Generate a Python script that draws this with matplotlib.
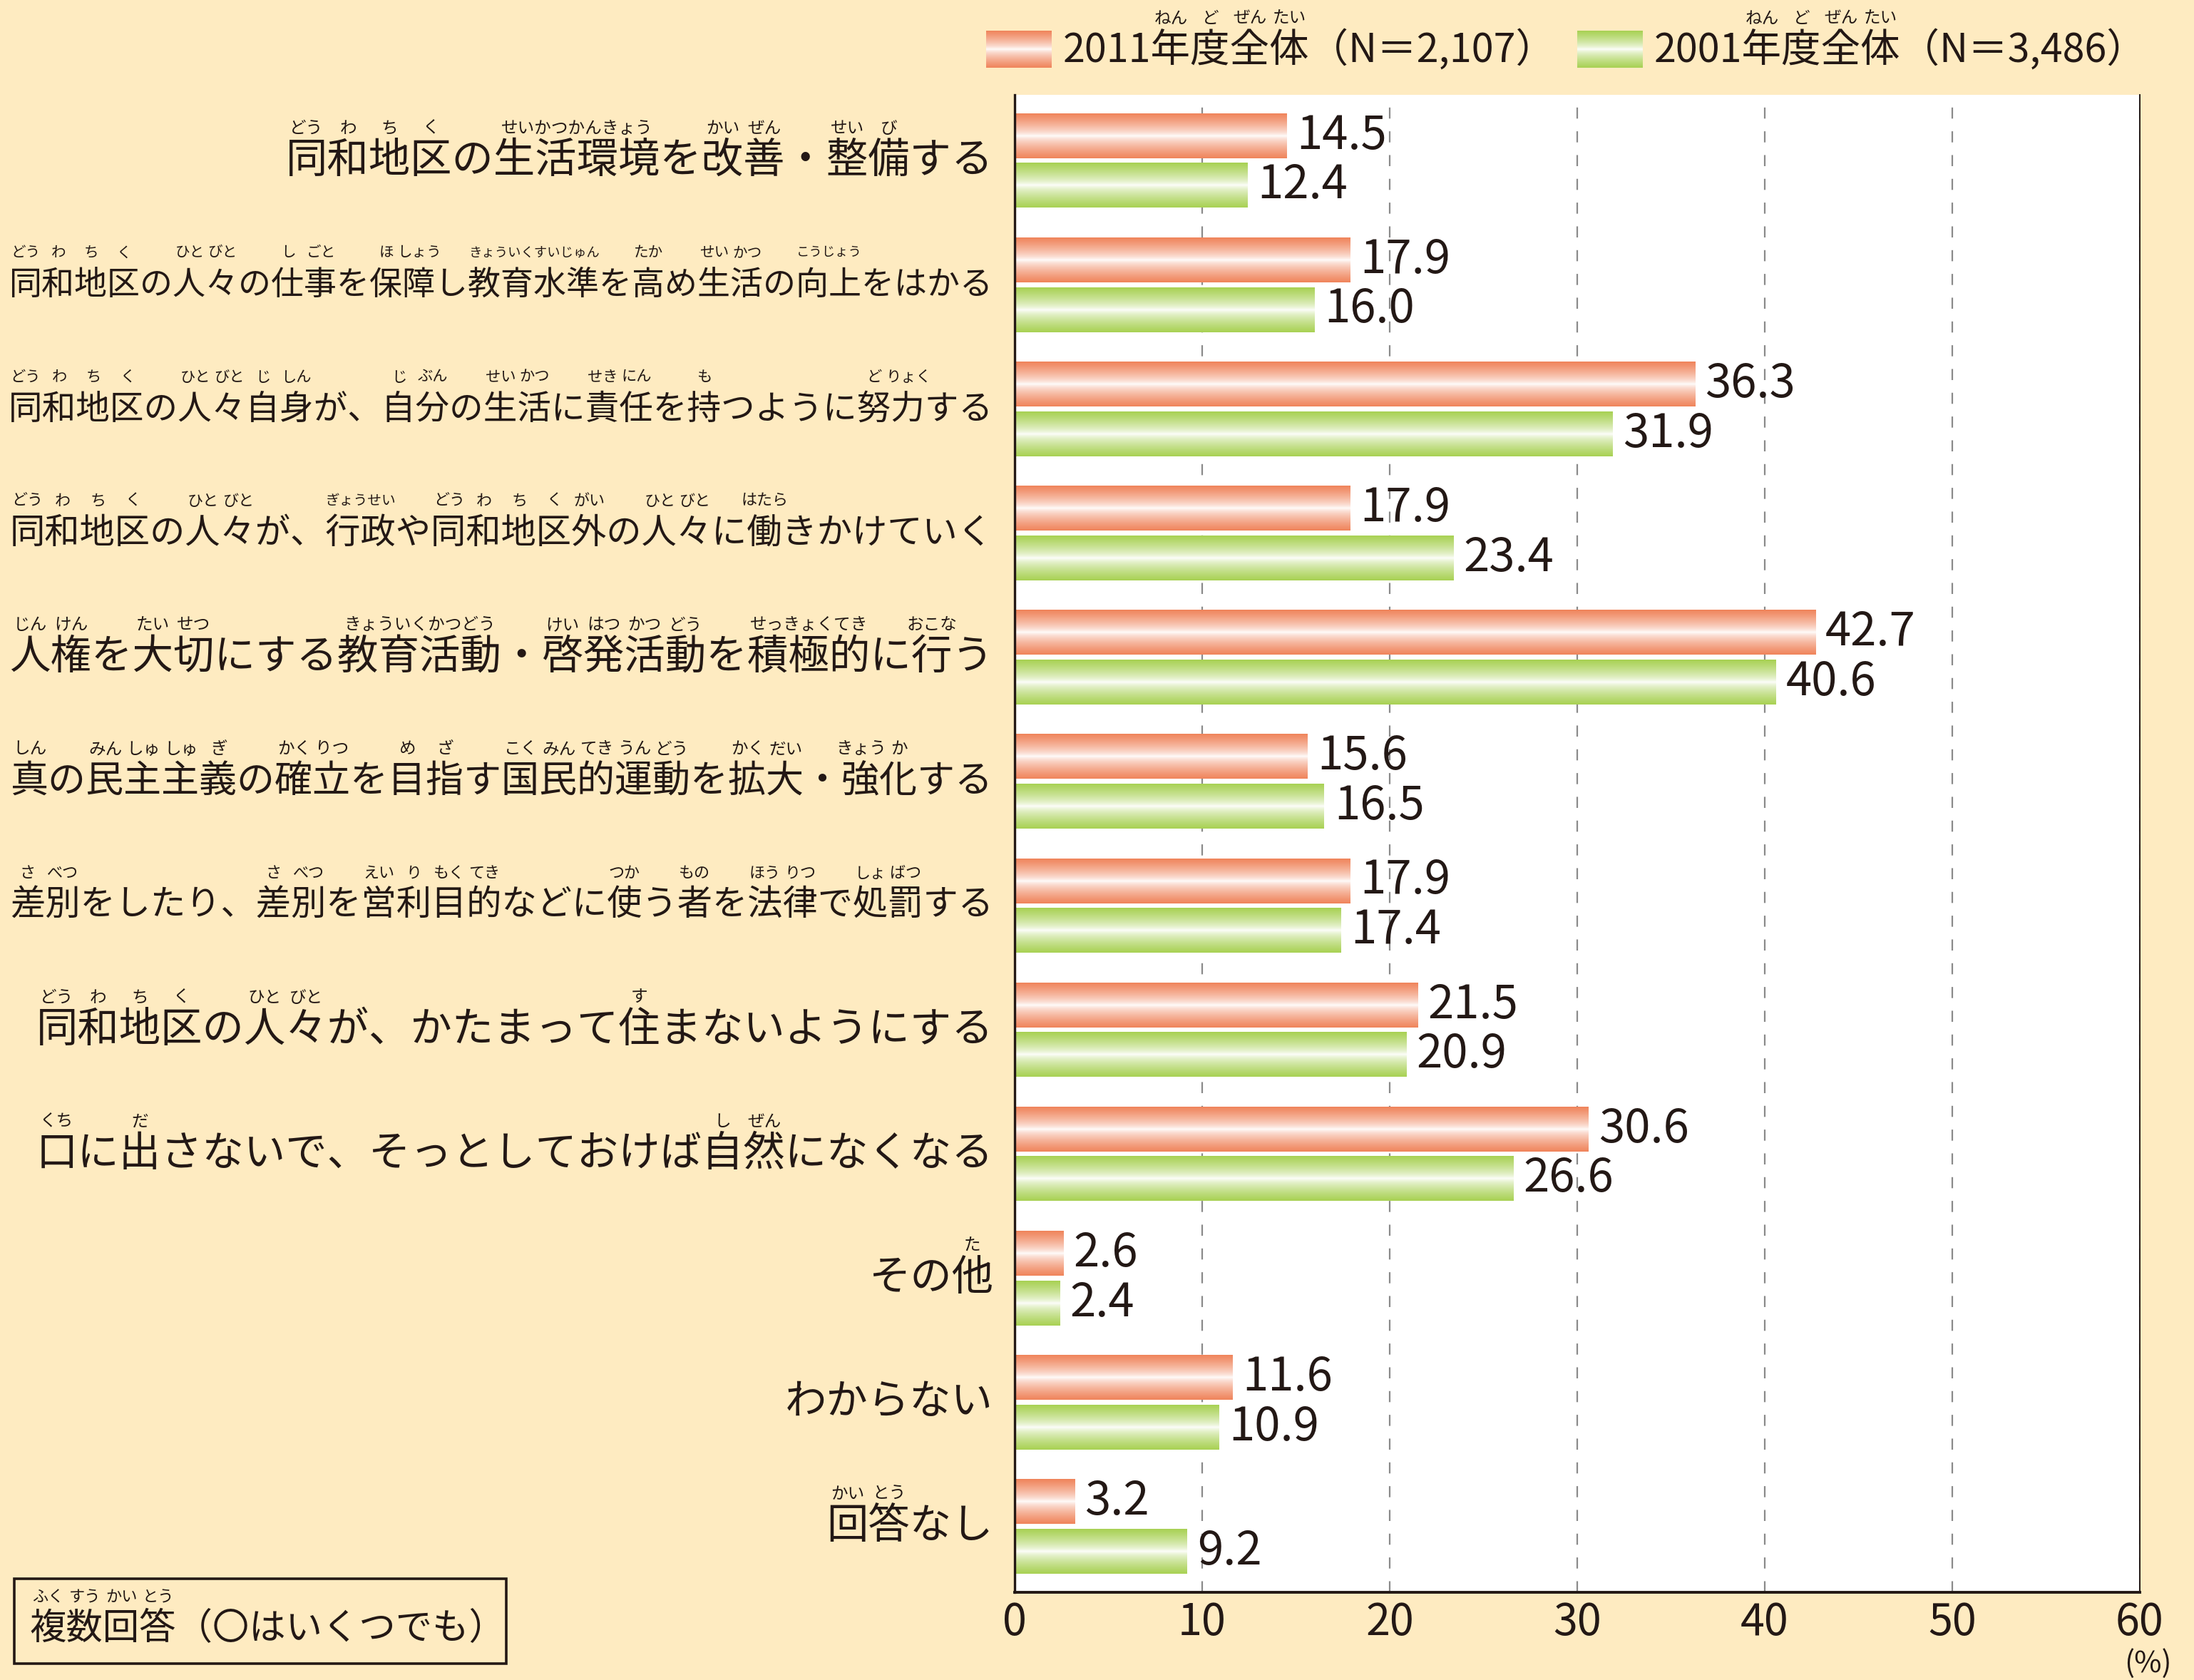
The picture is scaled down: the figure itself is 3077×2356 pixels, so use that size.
# 同和問題の解決に必要なこと (2011年度 vs 2001年度) - horizontal bar chart
import re
import numpy as np
import matplotlib
matplotlib.use('Agg')
import matplotlib.pyplot as plt
from matplotlib.patches import Rectangle
from matplotlib.font_manager import FontProperties

plt.rcParams['font.family'] = ['Noto Sans CJK JP', 'DejaVu Sans']

# category labels, furigana written as 漢[かな] after each character
labels_ruby = [
    '同[どう]和[わ]地[ち]区[く]の生[せい]活[かつ]環[かん]境[きょう]を改[かい]善[ぜん]・整[せい]備[び]する',
    '同[どう]和[わ]地[ち]区[く]の人[ひと]々[びと]の仕[し]事[ごと]を保[ほ]障[しょう]し教[きょう]育[いく]水[すい]準[じゅん]を高[たか]め生[せい]活[かつ]の向[こう]上[じょう]をはかる',
    '同[どう]和[わ]地[ち]区[く]の人[ひと]々[びと]自[じ]身[しん]が、自[じ]分[ぶん]の生[せい]活[かつ]に責[せき]任[にん]を持[も]つように努[ど]力[りょく]する',
    '同[どう]和[わ]地[ち]区[く]の人[ひと]々[びと]が、行[ぎょう]政[せい]や同[どう]和[わ]地[ち]区[く]外[がい]の人[ひと]々[びと]に働[はたら]きかけていく',
    '人[じん]権[けん]を大[たい]切[せつ]にする教[きょう]育[いく]活[かつ]動[どう]・啓[けい]発[はつ]活[かつ]動[どう]を積[せっ]極[きょく]的[てき]に行[おこな]う',
    '真[しん]の民[みん]主[しゅ]主[しゅ]義[ぎ]の確[かく]立[りつ]を目[め]指[ざ]す国[こく]民[みん]的[てき]運[うん]動[どう]を拡[かく]大[だい]・強[きょう]化[か]する',
    '差[さ]別[べつ]をしたり、差[さ]別[べつ]を営[えい]利[り]目[もく]的[てき]などに使[つか]う者[もの]を法[ほう]律[りつ]で処[しょ]罰[ばつ]する',
    '同[どう]和[わ]地[ち]区[く]の人[ひと]々[びと]が、かたまって住[す]まないようにする',
    '口[くち]に出[だ]さないで、そっとしておけば自[し]然[ぜん]になくなる',
    'その他[た]',
    'わからない',
    '回[かい]答[とう]なし',
]
series_2011 = '2011年[ねん]度[ど]全[ぜん]体[たい]（N＝2,107）'
series_2001 = '2001年[ねん]度[ど]全[ぜん]体[たい]（N＝3,486）'
note_ruby = '複[ふく]数[すう]回[かい]答[とう]（〇はいくつでも）'

val_2011 = [14.5, 17.9, 36.3, 17.9, 42.7, 15.6, 17.9, 21.5, 30.6, 2.6, 11.6, 3.2]
val_2001 = [12.4, 16.0, 31.9, 23.4, 40.6, 16.5, 17.4, 20.9, 26.6, 2.4, 10.9, 9.2]
x_ticks = [0, 10, 20, 30, 40, 50, 60]

BG = '#FEEBC1'
INK = '#231815'
ORANGE = (0.94, 0.52, 0.36)
GREEN = (0.66, 0.82, 0.33)
W, H = 3077, 2356


def parse_ruby(s):
    base, ruby = '', []
    for ch, rd in re.findall(r'(.)(?:\[([^\]]*)\])?', s):
        if rd:
            ruby.append((len(base), rd))
        base += ch
    return base, ruby


def gradient(base, n=64):
    t = np.linspace(-1, 1, n)
    f = np.abs(t) ** 0.7
    rgb = 1 - (1 - np.array(base))[None, :] * f[:, None]
    return rgb[:, None, :]


fig = plt.figure(figsize=(W / 100, H / 100), dpi=100, facecolor=BG)
renderer = fig.canvas.get_renderer()
to_fig = fig.transFigure.inverted()


def text_w(s, fs):
    prop = FontProperties(family=['Noto Sans CJK JP', 'DejaVu Sans'], size=fs)
    return renderer.get_text_width_height_descent(s, prop, ismath=False)[0]


def ruby_text(markup, x, y, fs, ha='right', ruby_fs=17, ruby_dy=45):
    """draw text with furigana; x, y in display pixels (y = text centre)"""
    base, ruby = parse_ruby(markup)
    width = text_w(base, fs)
    x0 = x - width if ha == 'right' else x
    fx, fy = to_fig.transform((x, y))
    fig.text(fx, fy, base, ha=ha, va='center', fontsize=fs, color=INK)
    # split readings into runs of neighbouring characters
    runs = []
    for idx, rd in ruby:
        if runs and runs[-1][-1][0] == idx - 1:
            runs[-1].append((idx, rd))
        else:
            runs.append([(idx, rd)])
    for run in runs:
        items = []
        for idx, rd in run:
            cx = x0 + text_w(base[:idx], fs) + text_w(base[idx], fs) / 2
            items.append((cx, rd, text_w(rd, ruby_fs)))
        crowded = any(a[0] + a[2] / 2 + 3 > b[0] - b[2] / 2 for a, b in zip(items, items[1:]))
        if crowded:
            # one reading centred over the whole word
            s0 = x0 + text_w(base[:run[0][0]], fs)
            s1 = x0 + text_w(base[:run[-1][0] + 1], fs)
            rd = ''.join(r for _, r in run)
            rfs = min(ruby_fs, ruby_fs * (s1 - s0) / text_w(rd, ruby_fs))
            items = [((s0 + s1) / 2, rd, 0)]
        else:
            rfs = ruby_fs
        for cx, rd, _ in items:
            rx, ry = to_fig.transform((cx, y + ruby_dy))
            fig.text(rx, ry, rd, ha='center', va='center', fontsize=rfs, color=INK)


ax = fig.add_axes([1423 / W, 1 - 2233 / H, 1578 / W, 2100 / H])
ax.set_facecolor('white')
n = len(labels_ruby)
y = np.arange(n)
bh = 0.36
bars_a = ax.barh(y - 0.2, val_2011, height=bh, color='none', zorder=3)
bars_b = ax.barh(y + 0.2, val_2001, height=bh, color='none', zorder=3)
for bars, col in [(bars_a, ORANGE), (bars_b, GREEN)]:
    for p in bars:
        x0, y0 = p.get_x(), p.get_y()
        ax.imshow(gradient(col), extent=[x0, x0 + p.get_width(), y0 + p.get_height(), y0],
                  aspect='auto', interpolation='bilinear', zorder=3)

for yy, a, b in zip(y, val_2011, val_2001):
    ax.annotate(f'{a:.1f}', (a, yy - 0.2), xytext=(10, 0), textcoords='offset points',
                va='center', ha='left', fontsize=47, color=INK, zorder=4)
    ax.annotate(f'{b:.1f}', (b, yy + 0.2), xytext=(10, 0), textcoords='offset points',
                va='center', ha='left', fontsize=47, color=INK, zorder=4)

ax.set_xlim(0, 60)
ax.set_ylim(n - 0.47, -0.53)
ax.set_xticks(x_ticks)
ax.set_xticklabels([str(t) for t in x_ticks])
ax.set_yticks([])
ax.tick_params(axis='x', length=0, labelsize=44, pad=8, colors=INK)
ax.set_axisbelow(True)
ax.xaxis.grid(True, linestyle=(0, (7, 8)), color='#8a8a8a', linewidth=1.6)
ax.spines['top'].set_visible(False)
ax.spines['left'].set_linewidth(2.4)
ax.spines['bottom'].set_linewidth(2.8)
ax.spines['right'].set_linewidth(1.4)
for s in ['left', 'bottom', 'right']:
    ax.spines[s].set_color(INK)
    ax.spines[s].set_zorder(5)

fig.text(3012 / W, 2 / H, '(%)', ha='center', va='bottom', fontsize=30, color=INK)

# category labels with furigana
fig.canvas.draw()
label_right = ax.transAxes.transform((0, 0))[0] - 30
avail = label_right - 12
for i, lab in enumerate(labels_ruby):
    base, _ = parse_ruby(lab)
    fs = 42
    w = text_w(base, fs)
    if w > avail:
        fs = fs * avail / w
    yc = ax.transData.transform((0, i))[1]
    ruby_text(lab, label_right, yc, fs, ruby_fs=17 * min(1, fs / 38))

# legend
for sx, col, lab in [(1383, ORANGE, series_2011), (2212, GREEN, series_2001)]:
    lax = fig.add_axes([sx / W, 1 - 95 / H, 92 / W, 52 / H])
    lax.imshow(gradient(col), aspect='auto', interpolation='bilinear')
    lax.axis('off')
    ruby_text(lab, sx + 108, H - 72, 40, ha='left', ruby_dy=46)

# note box
fig.patches.append(Rectangle((20 / W, 1 - 2333 / H), 690 / W, 119 / H, transform=fig.transFigure,
                             facecolor=BG, edgecolor=INK, linewidth=2.6))
ruby_text(note_ruby, 42, H - 2284, 37, ha='left', ruby_fs=16, ruby_dy=44)

fig.savefig('out.png', dpi=100, facecolor=BG)
